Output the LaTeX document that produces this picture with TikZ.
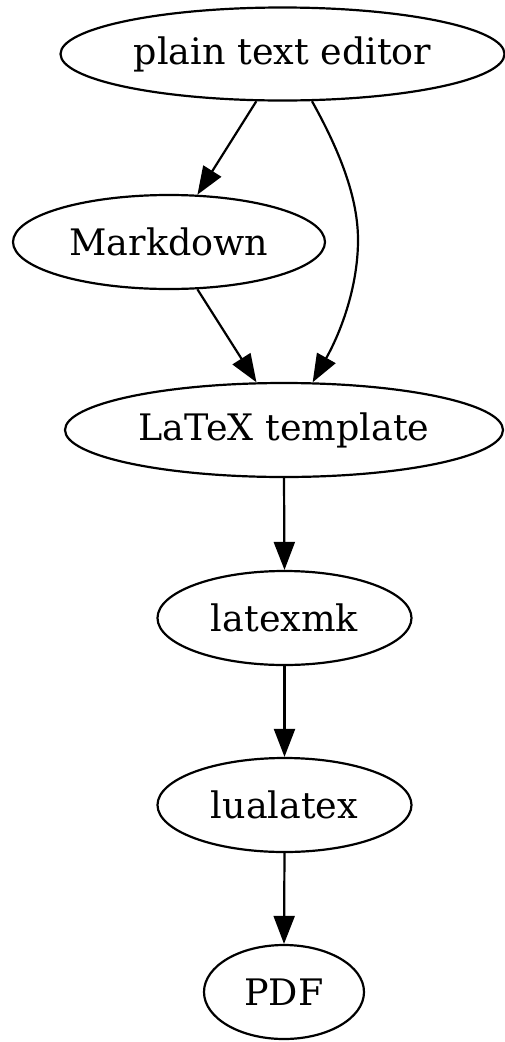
\documentclass[tikz,border=0pt]{standalone}
\usepackage{fontspec}
\setmainfont{DejaVu Serif}
\usetikzlibrary{shapes.geometric,arrows.meta}
\begin{document}
\begin{tikzpicture}[x=1pt,y=-1pt,
  gnode/.style={draw,ellipse,line width=2.2pt,inner sep=0pt,font=\fontsize{36.5}{44}\selectfont},
  gedge/.style={line width=2.2pt,-{Triangle[length=28pt,width=21pt]}}]
\useasboundingbox (0,0) rectangle (505,1042);
\node[gnode,minimum width=444pt,minimum height=93pt] (pte) at (282.5,54) {plain text editor};
\node[gnode,minimum width=312pt,minimum height=94pt] (md) at (169,242) {Markdown};
\node[gnode,minimum width=438pt,minimum height=94pt] (lt) at (284,430) {LaTeX template};
\node[gnode,minimum width=254pt,minimum height=94pt] (lm) at (284.5,618) {latexmk};
\node[gnode,minimum width=254pt,minimum height=94pt] (lu) at (284.5,805) {lualatex};
\node[gnode,minimum width=160pt,minimum height=94pt] (pdf) at (284,992) {PDF};
\draw[gedge] (pte.-119) -- (md.59);
\draw[gedge] (pte.-58) .. controls (342,155) and (358,200) .. (358,240)
  .. controls (358,285) and (342,330) .. (lt.59);
\draw[gedge] (md.-59) -- (lt.120);
\draw[gedge] (lt.south) -- (lm.north);
\draw[gedge] (lm.south) -- (lu.north);
\draw[gedge] (lu.south) -- (pdf.north);
\end{tikzpicture}
\end{document}
